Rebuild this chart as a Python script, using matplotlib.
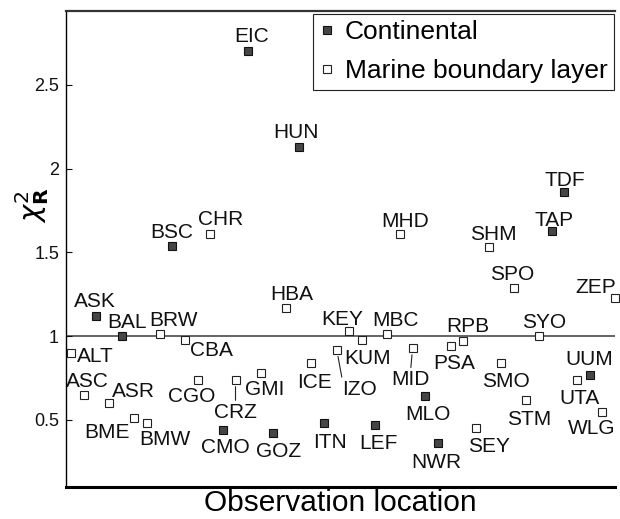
import numpy as np
import matplotlib
matplotlib.use("Agg")
import matplotlib.pyplot as plt

plt.rcParams['font.family'] = ['Liberation Sans', 'DejaVu Sans']
plt.rcParams['mathtext.fontset'] = 'dejavusans'

# Station codes (alphabetical, one per x position)
stations = ["ALT", "ASC", "ASK", "ASR", "BAL", "BME", "BMW", "BRW", "BSC", "CBA",
            "CGO", "CHR", "CMO", "CRZ", "EIC", "GMI", "GOZ", "HBA", "HUN", "ICE",
            "ITN", "IZO", "KEY", "KUM", "LEF", "MBC", "MHD", "MID", "MLO", "NWR",
            "PSA", "RPB", "SEY", "SHM", "SMO", "SPO", "STM", "SYO", "TAP", "TDF",
            "UTA", "UUM", "WLG", "ZEP"]

# reduced chi-square per station
chi2_r = [0.90, 0.65, 1.12, 0.60, 1.00, 0.51, 0.48, 1.01, 1.54, 0.98,
          0.74, 1.61, 0.44, 0.74, 2.70, 0.78, 0.42, 1.17, 2.13, 0.84,
          0.48, 0.92, 1.03, 0.98, 0.47, 1.01, 1.61, 0.93, 0.64, 0.36,
          0.94, 0.97, 0.45, 1.53, 0.84, 1.29, 0.62, 1.00, 1.63, 1.86,
          0.74, 0.77, 0.55, 1.23]

continental = ["ASK", "BAL", "BSC", "CMO", "EIC", "GOZ", "HUN", "ITN", "LEF",
               "MLO", "NWR", "TAP", "TDF", "UUM"]

# label placement: text centre relative to marker, in pixels (right, down)
label_offset = {
    "ALT": (24, 2), "ASC": (4, -15), "ASK": (-1, -16), "ASR": (24, -14),
    "BAL": (5, -16), "BME": (-27, 12), "BMW": (18, 14), "BRW": (14, -16),
    "BSC": (-1, -15), "CBA": (27, 9), "CGO": (-6, 15), "CHR": (10, -16),
    "CMO": (3, 16), "CRZ": (0, 31), "EIC": (3, -17), "GMI": (4, 15),
    "GOZ": (5, 16), "HBA": (6, -15), "HUN": (-3, -16), "ICE": (3, 18),
    "ITN": (6, 17), "IZO": (23, 38), "KEY": (-7, -14), "KUM": (6, 17),
    "LEF": (4, 17), "MBC": (8, -16), "MHD": (5, -14), "MID": (-2, 30),
    "MLO": (3, 16), "NWR": (-2, 17), "PSA": (4, 15), "RPB": (5, -17),
    "SEY": (13, 16), "SHM": (5, -15), "SMO": (5, 17), "SPO": (-2, -15),
    "STM": (3, 18), "SYO": (5, -16), "TAP": (2, -12), "TDF": (0, -13),
    "UTA": (2, 17), "UUM": (0, -17), "WLG": (-11, 15), "ZEP": (-19, -12),
}
leader = {"CRZ": (0.5, 1), "IZO": (0.0, 1), "MID": (0.5, 1)}

x = np.arange(1, len(stations) + 1)
y = np.array(chi2_r)
is_cont = np.array([s in continental for s in stations])

fig = plt.figure(figsize=(6.2, 5.19), dpi=100)
ax = fig.add_axes([66 / 620, 32 / 519, 549 / 620, 476 / 519])

ax.axhline(1.0, color="#3a3a3a", lw=1.1, zorder=1)

ax.plot(x[is_cont], y[is_cont], "s", ms=5.5, mfc="#454545", mec="#111111",
        mew=0.8, ls="none", label="Continental", zorder=3, clip_on=False)
ax.plot(x[~is_cont], y[~is_cont], "s", ms=5.5, mfc="white", mec="#222222",
        mew=0.8, ls="none", label="Marine boundary layer", zorder=3, clip_on=False)

half_cap = 7.4
for xi, yi, name in zip(x, y, stations):
    dx, dy = label_offset[name]
    kw = {}
    if name in leader:
        kw["arrowprops"] = dict(arrowstyle="-", color="#222222", lw=0.8,
                                shrinkA=0, shrinkB=5,
                                relpos=leader[name])
    ax.annotate(name, xy=(xi, yi), xytext=(dx, -dy - half_cap),
                textcoords="offset pixels", ha="center", va="baseline",
                fontsize=15, color="#111111", **kw)

ax.set_xlim(0.6, 44.0)
ax.set_ylim(0.1, 2.94)
ax.set_xticks([])
ax.set_yticks([0.5, 1, 1.5, 2, 2.5])
ax.set_yticklabels(["0.5", "1", "1.5", "2", "2.5"])
ax.tick_params(axis="y", direction="in", length=4.5, width=0.8,
               labelsize=13, pad=5, colors="#111111")

ax.spines["right"].set_visible(False)
ax.spines["left"].set_linewidth(1.0)
ax.spines["top"].set_linewidth(1.6)
ax.spines["top"].set_color("#333333")
ax.spines["bottom"].set_linewidth(2.2)

ax.set_xlabel("Observation location", fontsize=21.5, labelpad=1.5)
ax.set_ylabel(r"$\chi^{2}_{\mathbf{R}}$", fontsize=21)
ax.yaxis.set_label_coords(-0.028, 0.592)

leg = ax.legend(loc="upper right", bbox_to_anchor=(0.998, 0.994),
                borderaxespad=0, fontsize=19, handlelength=0.6,
                handletextpad=0.35, labelspacing=0.55, borderpad=0.25,
                fancybox=False, framealpha=1, edgecolor="#222222",
                markerscale=1.0)
leg.get_frame().set_linewidth(0.8)

fig.savefig("out.png", dpi=100)
